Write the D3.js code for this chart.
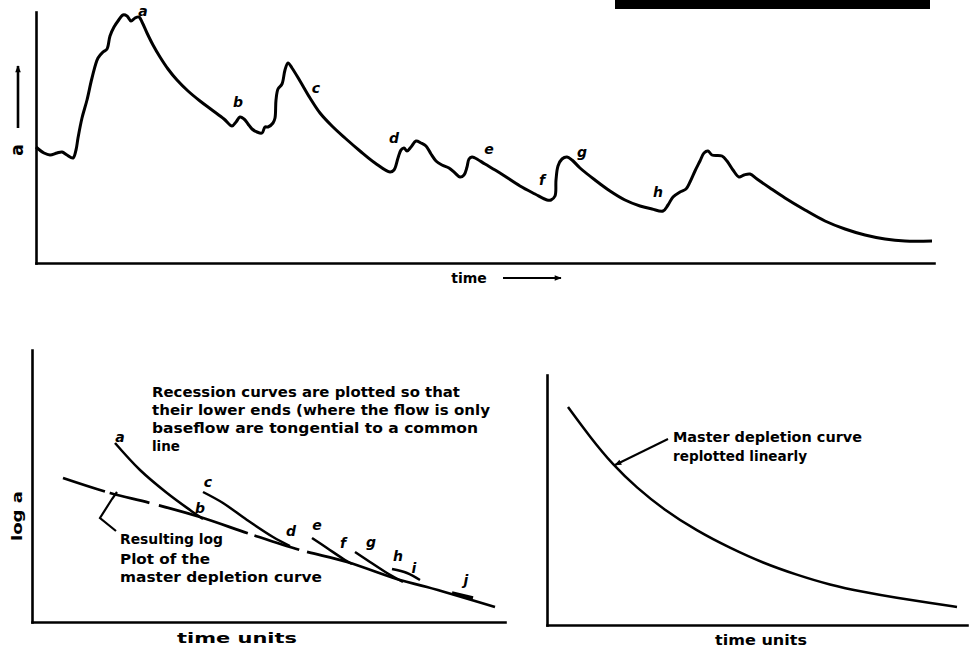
<!DOCTYPE html>
<html><head><meta charset="utf-8">
<script src="https://cdn.jsdelivr.net/npm/d3@7"></script>
<style>
body{margin:0;background:#fff}
svg{display:block}
text{font-family:"DejaVu Sans",sans-serif;font-weight:bold;fill:#000}
</style>
</head><body>
<svg id="c" width="975" height="653"></svg>
<script>
// ---------- DATA (arbitrary units) ----------
// Top panel: streamflow hydrograph [time, Q]
const hydrograph = [
 [0,116],[8,110],[14,108],[21,110],[26,111],[31,108],[37,105],[40,113],[42,125],[46,145],
 [51,163],[56,185],[62,205],[67,211],[71,214],[74,227],[78,236],[82,242],[87,248],[91,247],
 [95,242],[99,245],[103,246],[106,241],[111,230],[117,218],[124,206],[132,194],[141,183],[152,172],
 [164,162],[176,153],[188,144],[196,137],[200,141],[204,146],[208,144],[212,139],[216,134],[221,131],
 [226,130],[229,136],[232,136],[237,140],[239,145],[240,163],[242,174],[246,179],[249,193],[252,200],
 [256,195],[264,182],[274,165],[284,150],[296,137],[309,125],[324,112],[339,100],[354,91],[358,93],
 [362,105],[365,113],[368,115],[371,112],[375,116],[380,122],[385,120],[390,117],[395,109],[400,102],
 [406,98],[413,95],[419,90],[424,86],[428,88],[431,96],[433,104],[436,106],[439,105],[449,99],
 [464,90],[484,77],[499,69],[511,63],[515,63],[519,67],[520,83],[522,97],[526,104],[531,106],
 [536,103],[544,95],[559,83],[574,72],[589,63],[604,57],[616,54],[627,52],[632,58],[637,66],
 [644,71],[650,74],[654,81],[659,92],[664,102],[668,110],[672,112],[676,108],[686,107],[691,102],
 [697,93],[703,86],[708,88],[714,89],[721,84],[734,75],[749,65],[769,53],[789,42],[809,34],
 [829,28],[849,24],[869,22],[896,22]
];
const hydroLabels = ["a","b","c","d","e","f","g","h"];
const hydroLabelPos = [[107,252],[202,161],[280,175],[358,125],[453,114],[506,83],[546,111],[622,71]];

// Bottom-left panel: log Q vs time units
const masterCurve = [[31,144],[78,129],[118,119],[168,105],[218,88],[268,72],[315,60],[368,42],[395,35],[463,15]];
const recessionA = [[83,179],[108,152],[135,129],[158,112],[171,103]];
const recessionC = [[171,130],[191,119],[215,102],[241,85],[258,76]];
const recessionE = [[280,84],[295,74],[313,62],[320,58]];
const recessionG = [[323,70],[338,60],[355,49],[371,40]];
const recessionH = [[360,53],[375,49],[388,42]];
const recessionJ = [[420,29],[441,24]];
const logLabels = ["a","b","c","d","e","f","g","h","i","j"];
const logLabelPos = [[88,185],[168,114],[176,140],[259,91],[285,97],[311,79],[339,80],[366,66],[382,54],[434,42]];
const noteLines = ["Recession curves are plotted so that","their lower ends (where the flow is only","baseflow are tongential to a common","line"];
const resultLines = ["Resulting log","Plot of the","master depletion curve"];

// Bottom-right panel: master depletion curve replotted linearly
const linearCurve = [[21,218],[43,188],[66,160],[90,137],[116,116],[150,94],[183,77],[216,62],[250,50],[283,40],[316,33],[350,27],[383,22],[410,18]];
const linearNote = ["Master depletion curve","replotted linearly"];

// ---------- DRAW ----------
const svg = d3.select("#c");
const defs = svg.append("defs");
defs.append("marker").attr("id","ah").attr("viewBox","0 0 10 10").attr("refX",9).attr("refY",5)
  .attr("markerWidth",8).attr("markerHeight",7).attr("markerUnits","userSpaceOnUse").attr("orient","auto")
  .append("path").attr("d","M0,1 L10,5 L0,9 Z").attr("fill","#000");

// redaction bar at top
svg.append("rect").attr("x",615).attr("y",0).attr("width",315).attr("height",9).attr("fill","#000");

function axes(g, x, y){
  const ax = g.append("g").attr("transform",`translate(0,${y.range()[0]})`).call(d3.axisBottom(x).ticks(0).tickSizeOuter(0));
  const ay = g.append("g").attr("transform",`translate(${x.range()[0]},0)`).call(d3.axisLeft(y).ticks(0).tickSizeOuter(0));
  [ax,ay].forEach(a=>a.select(".domain").attr("stroke","#000").attr("stroke-width",2.6).attr("stroke-linecap","square"));
}

// --- Top panel
const xT = d3.scaleLinear().domain([0,898]).range([36,934]);
const yT = d3.scaleLinear().domain([0,251]).range([263,12]);
const gT = svg.append("g");
axes(gT,xT,yT);
const lineT = d3.line().x(d=>xT(d[0])).y(d=>yT(d[1])).curve(d3.curveCatmullRom.alpha(0.5));
gT.append("path").attr("d",lineT(hydrograph)).attr("fill","none").attr("stroke","#000").attr("stroke-width",3).attr("stroke-linejoin","round");
gT.selectAll("text.lbl").data(hydroLabels).join("text").attr("class","lbl")
  .attr("x",(d,i)=>xT(hydroLabelPos[i][0])).attr("y",(d,i)=>yT(hydroLabelPos[i][1])+5)
  .attr("text-anchor","middle").attr("font-size",14).attr("font-style","italic").text(d=>d);
gT.append("text").attr("x",469).attr("y",283).attr("text-anchor","middle").attr("font-size",14).text("time");
gT.append("line").attr("x1",503).attr("y1",278).attr("x2",561).attr("y2",278).attr("stroke","#000").attr("stroke-width",2).attr("marker-end","url(#ah)");
gT.append("text").attr("transform","translate(23,150) rotate(-90)").attr("text-anchor","middle").attr("font-size",17).text("a");
gT.append("line").attr("x1",18).attr("y1",128).attr("x2",18).attr("y2",66).attr("stroke","#000").attr("stroke-width",2.6).attr("marker-end","url(#ah)");

// --- Bottom-left panel
const xL = d3.scaleLinear().domain([0,473]).range([32,505]);
const yL = d3.scaleLinear().domain([0,272]).range([622,350]);
const gL = svg.append("g");
axes(gL,xL,yL);
const lineL = d3.line().x(d=>xL(d[0])).y(d=>yL(d[1])).curve(d3.curveCatmullRom.alpha(0.5));
gL.append("path").attr("d",lineL(masterCurve)).attr("fill","none").attr("stroke","#000").attr("stroke-width",2.8)
  .attr("stroke-dasharray","44,5,41,10,93,7,47,8,3000");
[recessionA,recessionC,recessionE,recessionG,recessionH].forEach(s=>{
  gL.append("path").attr("d",lineL(s)).attr("fill","none").attr("stroke","#000").attr("stroke-width",2.5);
});
gL.append("path").attr("d",lineL(recessionJ)).attr("fill","none").attr("stroke","#000").attr("stroke-width",3.5);
gL.selectAll("text.lbl").data(logLabels).join("text").attr("class","lbl")
  .attr("x",(d,i)=>xL(logLabelPos[i][0])).attr("y",(d,i)=>yL(logLabelPos[i][1])+5)
  .attr("text-anchor","middle").attr("font-size",14).attr("font-style","italic").text(d=>d);
const noteW = [308,338,326,28];
gL.selectAll("text.note").data(noteLines).join("text").attr("class","note")
  .attr("x",152).attr("y",(d,i)=>397+i*18).attr("font-size",13.5)
  .attr("textLength",(d,i)=>noteW[i]).attr("lengthAdjust","spacingAndGlyphs").text(d=>d);
const resW = [103,90,202];
const resY = [544,564,582];
gL.selectAll("text.res").data(resultLines).join("text").attr("class","res")
  .attr("x",120).attr("y",(d,i)=>resY[i]).attr("font-size",13.5)
  .attr("textLength",(d,i)=>resW[i]).attr("lengthAdjust","spacingAndGlyphs").text(d=>d);
gL.append("path").attr("d","M117,492 L112,499 L100,518 L116,531").attr("fill","none").attr("stroke","#000").attr("stroke-width",2.2);
gL.append("text").attr("x",237).attr("y",643).attr("text-anchor","middle").attr("font-size",14)
  .attr("textLength",120).attr("lengthAdjust","spacingAndGlyphs").text("time units");
gL.append("text").attr("transform","translate(22,516) rotate(-90)").attr("text-anchor","middle").attr("font-size",14)
  .attr("textLength",50).attr("lengthAdjust","spacingAndGlyphs").text("log a");

// --- Bottom-right panel
const xR = d3.scaleLinear().domain([0,420]).range([547,967]);
const yR = d3.scaleLinear().domain([0,250]).range([625,375]);
const gR = svg.append("g");
axes(gR,xR,yR);
const lineR = d3.line().x(d=>xR(d[0])).y(d=>yR(d[1])).curve(d3.curveBasis);
gR.append("path").attr("d",lineR(linearCurve)).attr("fill","none").attr("stroke","#000").attr("stroke-width",2.5);
const linW = [189,134];
gR.selectAll("text.note").data(linearNote).join("text").attr("class","note")
  .attr("x",673).attr("y",(d,i)=>442+i*19).attr("font-size",13.5)
  .attr("textLength",(d,i)=>linW[i]).attr("lengthAdjust","spacingAndGlyphs").text(d=>d);
gR.append("line").attr("x1",668).attr("y1",439).attr("x2",615).attr("y2",465).attr("stroke","#000").attr("stroke-width",2).attr("marker-end","url(#ah)");
gR.append("text").attr("x",761).attr("y",645).attr("text-anchor","middle").attr("font-size",14)
  .attr("textLength",92).attr("lengthAdjust","spacingAndGlyphs").text("time units");
</script>
</body></html>
